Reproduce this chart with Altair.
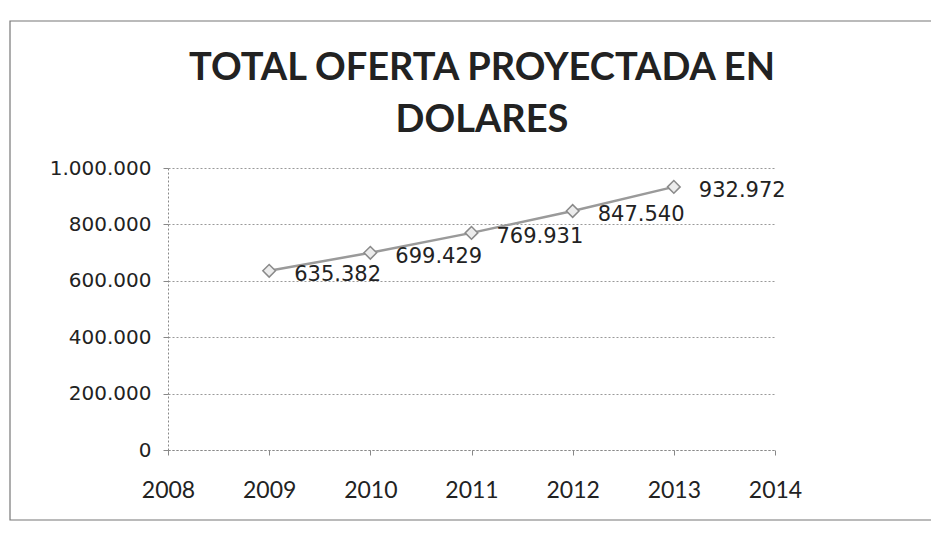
import altair as alt
import pandas as pd

years = [2009, 2010, 2011, 2012, 2013]
values = [635382, 699429, 769931, 847540, 932972]
x_ticks = [2008, 2009, 2010, 2011, 2012, 2013, 2014]
y_ticks = [0, 200000, 400000, 600000, 800000, 1000000]
title_lines = ["TOTAL OFERTA PROYECTADA EN", "DOLARES"]

df = pd.DataFrame({"year": years, "value": values})

base = alt.Chart(df).encode(
    x=alt.X("year:Q", scale=alt.Scale(domain=[2008, 2014], nice=False),
            axis=alt.Axis(values=x_ticks, format="d", title=None, grid=False,
                          labelFont="Lato", labelFontSize=23, labelColor="#222",
                          labelPadding=24, labelFlush=False, labelOverlap=False,
                          tickSize=5, tickColor="#888",
                          domainColor="#888", domainDash=[2, 2])),
    y=alt.Y("value:Q", scale=alt.Scale(domain=[0, 1000000], nice=False),
            axis=alt.Axis(values=y_ticks, format=",d", title=None, grid=True,
                          gridColor="#999", gridDash=[2, 2],
                          labelFont="DejaVu Sans", labelFontSize=20, labelColor="#222",
                          labelPadding=12, tickSize=5, tickColor="#888",
                          domainColor="#888", domainDash=[2, 2])),
)

line = base.mark_line(color="#9a9a9a", strokeWidth=2.5)
points = base.mark_point(shape="diamond", size=160, filled=True, fill="#ececec",
                         stroke="#8a8a8a", strokeWidth=1.5, opacity=1)
labels = base.mark_text(align="left", baseline="middle", dx=25, dy=4,
                        font="DejaVu Sans", fontSize=21, color="#222").encode(
    text=alt.Text("value:Q", format=",d"))

border = alt.Chart(alt.Data(values=[{}])).mark_rect(
    fillOpacity=0, stroke="#777", strokeWidth=1.2).encode(
    x=alt.value(-158), x2=alt.value(820), y=alt.value(-147), y2=alt.value(352))

title1 = alt.Chart(alt.Data(values=[{}])).mark_text(
    font="Lato", fontSize=38, fontWeight="bold", color="#222",
    align="center", baseline="alphabetic").encode(
    text=alt.value(title_lines[0]), x=alt.value(314), y=alt.value(-88))
title2 = alt.Chart(alt.Data(values=[{}])).mark_text(
    font="Lato", fontSize=38, fontWeight="bold", color="#222",
    align="center", baseline="alphabetic").encode(
    text=alt.value(title_lines[1]), x=alt.value(314), y=alt.value(-36))

chart = alt.layer(border, title1, title2, line, points, labels).properties(
    width=607, height=282,
    autosize=alt.AutoSizeParams(type="none"),
    padding={"left": 160, "top": 160, "right": 156, "bottom": 76},
).configure(
    locale={"number": {"decimal": ",", "thousands": ".", "grouping": [3],
                       "currency": ["$", ""]}}
).configure_view(stroke=None)

chart.save("out.html", embed_options={"renderer": "svg", "actions": False})
